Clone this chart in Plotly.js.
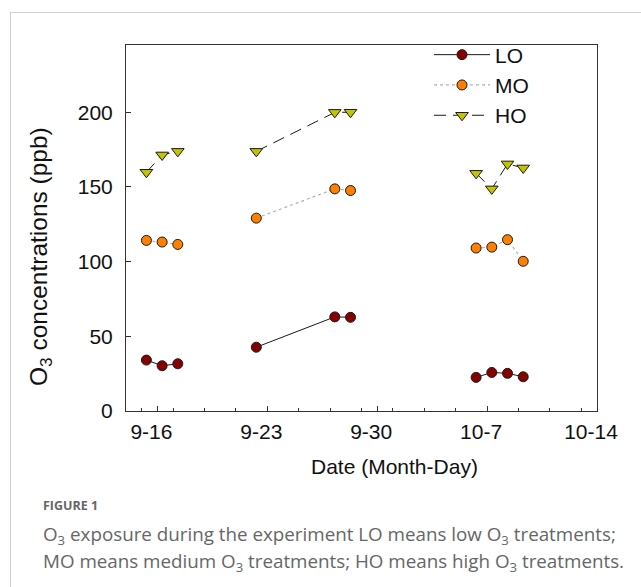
<!DOCTYPE html>
<html>
<head>
<meta charset="utf-8">
<script src="https://cdn.plot.ly/plotly-3.0.1.min.js"></script>
<style>
  html, body { margin: 0; padding: 0; background: #fff; }
  #wrap { position: relative; width: 641px; height: 587px; overflow: hidden; }
  #chart { width: 641px; height: 587px; }
  #frame { position: absolute; left: 10px; top: 12px; right: -5px; bottom: -5px;
           border-left: 1px solid #cfcfcf; border-top: 1px solid #cfcfcf; pointer-events: none; }
</style>
</head>
<body>
<div id="wrap">
  <div id="chart"></div>
  <div id="frame"></div>
</div>
<script>
// Sampling days, counted from 1 September (Oct d = 30 + d)
const sampleDays = [15.3, 16.3, 17.3, 22.3, 27.3, 28.3, 36.3, 37.3, 38.3, 39.3];
// Exposure period each sample belongs to; lines are only drawn within a period
const periodIds = [1, 1, 1, 2, 2, 2, 3, 3, 3, 3];

// O3 concentrations (ppb) per treatment
const loValues = [34.1, 30.3, 31.6, 42.7, 63.0, 62.7, 22.5, 25.8, 25.2, 22.9];
const moValues = [114.2, 113.1, 111.5, 129.1, 148.7, 147.6, 109.1, 109.7, 114.7, 100.2];
const hoValues = [159.8, 171.4, 173.8, 173.8, 199.9, 200.0, 159.1, 148.7, 165.4, 162.7];

// Axis ticks
const tickDays = [16, 23, 30, 37, 44];
const tickLabels = ['9-16', '9-23', '9-30', '10-7', '10-14'];
const yTicks = [0, 50, 100, 150, 200];

// Insert a null between periods so each period gets its own line
function withGaps(xs, ys) {
  const gx = [], gy = [];
  for (let i = 0; i < xs.length; i++) {
    if (i > 0 && periodIds[i] !== periodIds[i - 1]) { gx.push(null); gy.push(null); }
    gx.push(xs[i]); gy.push(ys[i]);
  }
  return { x: gx, y: gy };
}

const lo = withGaps(sampleDays, loValues);
const mo = withGaps(sampleDays, moValues);
const ho = withGaps(sampleDays, hoValues);

const traces = [
  { name: 'LO', x: lo.x, y: lo.y, type: 'scatter', mode: 'lines+markers', connectgaps: false,
    line: { color: '#1a1a1a', width: 1 },
    marker: { symbol: 'circle', size: 10, color: '#850000', line: { color: '#1a1a1a', width: 1 } } },
  { name: 'MO', x: mo.x, y: mo.y, type: 'scatter', mode: 'lines+markers', connectgaps: false,
    line: { color: '#b0b0b0', width: 1.2, dash: 'dot' },
    marker: { symbol: 'circle', size: 10, color: '#ff7f00', line: { color: '#1a1a1a', width: 1 } } },
  { name: 'HO', x: ho.x, y: ho.y, type: 'scatter', mode: 'lines+markers', connectgaps: false,
    line: { color: '#1a1a1a', width: 1, dash: '12px,7px' },
    marker: { symbol: 'triangle-down', size: 11, color: '#c3c300', line: { color: '#1a1a1a', width: 1 } } }
];

// Plot-area geometry in pixels, used to place titles and caption
const M = { l: 126, r: 44, t: 45, b: 176 };
const W = 641, H = 587;
const pw = W - M.l - M.r, ph = H - M.t - M.b;
const px = v => (v - M.l) / pw;
const py = v => (H - M.b - v) / ph;

const axisFont = { family: 'Liberation Sans, Arial, sans-serif', size: 21, color: '#111' };
const captionFont = { family: 'Open Sans, sans-serif', size: 18.8, color: '#666666' };

const layout = {
  width: W, height: H,
  margin: M,
  paper_bgcolor: '#ffffff',
  plot_bgcolor: '#ffffff',
  font: axisFont,
  showlegend: true,
  legend: {
    x: px(429), y: py(85), xanchor: 'left', yanchor: 'middle',
    bgcolor: 'rgba(0,0,0,0)', borderwidth: 0,
    font: axisFont,
    itemwidth: 56, tracegroupgap: 0
  },
  xaxis: {
    range: [14, 44],
    tickmode: 'array', tickvals: tickDays, ticktext: tickLabels,
    ticks: 'inside', ticklen: 5, tickwidth: 1, tickcolor: '#333',
    ticklabelshift: -6, ticklabelstandoff: 2,
    minor: { tickmode: 'linear', tick0: 15, dtick: 2, ticks: 'inside', ticklen: 3, tickwidth: 1, tickcolor: '#333' },
    showline: true, linecolor: '#333', linewidth: 1, mirror: true,
    showgrid: false, zeroline: false,
    tickfont: axisFont
  },
  yaxis: {
    range: [0, 245],
    tickmode: 'array', tickvals: yTicks,
    ticks: 'inside', ticklen: 5, tickwidth: 1, tickcolor: '#333',
    ticklabelstandoff: 8,
    showline: true, linecolor: '#333', linewidth: 1, mirror: true,
    showgrid: false, zeroline: false,
    tickfont: axisFont
  },
  annotations: [
    // axis titles
    { text: 'Date (Month-Day)', xref: 'paper', yref: 'paper', x: px(394), y: py(466),
      xanchor: 'center', yanchor: 'middle', showarrow: false, font: axisFont },
    { text: 'O<sub>3</sub> concentrations (ppb)', xref: 'paper', yref: 'paper', x: px(40), y: py(257),
      xanchor: 'center', yanchor: 'middle', textangle: -90, showarrow: false,
      font: Object.assign({}, axisFont, { size: 24.5 }) },
    // figure caption
    { text: '<b>FIGURE 1</b>', xref: 'paper', yref: 'paper', x: px(41), y: py(505),
      xanchor: 'left', yanchor: 'middle', showarrow: false,
      font: { family: 'Open Sans, sans-serif', size: 12.5, color: '#666666' } },
    { text: 'O<sub>3</sub> exposure during the experiment LO means low O<sub>3</sub> treatments;',
      xref: 'paper', yref: 'paper', x: px(41), y: py(535),
      xanchor: 'left', yanchor: 'middle', showarrow: false, font: captionFont },
    { text: 'MO means medium O<sub>3</sub> treatments; HO means high O<sub>3</sub> treatments.',
      xref: 'paper', yref: 'paper', x: px(41), y: py(562),
      xanchor: 'left', yanchor: 'middle', showarrow: false, font: captionFont }
  ]
};

Plotly.newPlot('chart', traces, layout, { displayModeBar: false, staticPlot: true });
</script>
</body>
</html>
